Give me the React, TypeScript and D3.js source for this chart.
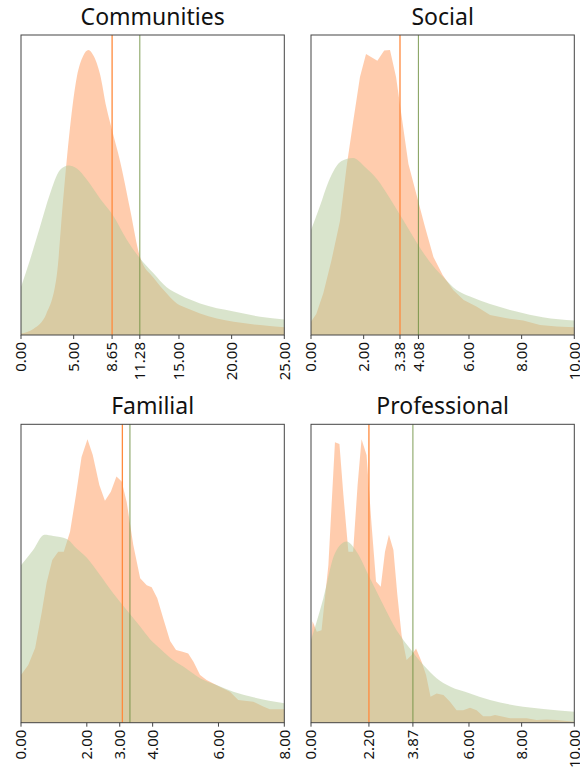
import React from "react";
import * as d3 from "d3";

// ---------- DATA ----------
const panelTitles = ["Communities", "Social", "Familial", "Professional"];

const commDomain = [0, 25];
const commTicks = [0, 5, 8.65, 11.28, 15, 20, 25];
const commMeans = [8.65, 11.28];
const commOrangeX = [0, 1.17, 2.4, 3.4, 4.0, 4.65, 5.3, 5.9, 6.4, 6.9, 7.5, 8.1, 8.67, 9.4, 10.35, 11.3, 12.6, 13.8, 14.8, 15.7, 17, 18.6, 20.2, 22.7, 25];
const commOrangeY = [0.005, 0.02, 0.07, 0.2, 0.45, 0.69, 0.86, 0.93, 0.95, 0.93, 0.87, 0.76, 0.68, 0.58, 0.42, 0.26, 0.19, 0.14, 0.105, 0.09, 0.072, 0.055, 0.044, 0.033, 0.026];
const commGreenX = [0, 0.85, 1.8, 2.75, 3.7, 4.5, 5.3, 6.2, 7.5, 8.8, 10, 11.3, 12.6, 13.8, 15.1, 17, 20.2, 22.7, 25];
const commGreenY = [0.16, 0.25, 0.36, 0.47, 0.55, 0.565, 0.555, 0.52, 0.455, 0.395, 0.32, 0.255, 0.205, 0.16, 0.133, 0.105, 0.078, 0.061, 0.052];

const socDomain = [0, 10];
const socTicks = [0, 2, 3.38, 4.08, 6, 8, 10];
const socMeans = [3.38, 4.08];
const socOrangeX = [0, 0.2, 0.47, 0.78, 1.1, 1.35, 1.6, 1.86, 2.09, 2.52, 2.78, 3.0, 3.23, 3.44, 3.7, 4.0, 4.33, 4.65, 5.0, 5.4, 5.8, 6.3, 6.8, 7.43, 8.06, 8.7, 9.33, 10];
const socOrangeY = [0.044, 0.07, 0.14, 0.25, 0.38, 0.56, 0.71, 0.86, 0.937, 0.914, 0.948, 0.95, 0.86, 0.73, 0.57, 0.47, 0.36, 0.26, 0.2, 0.15, 0.117, 0.094, 0.067, 0.056, 0.048, 0.033, 0.028, 0.026];
const socGreenX = [0, 0.34, 0.66, 1.16, 1.6, 2.05, 2.5, 3.0, 3.5, 4.0, 4.5, 5.0, 5.53, 6.04, 6.8, 7.8, 8.8, 10];
const socGreenY = [0.35, 0.43, 0.51, 0.58, 0.59, 0.56, 0.52, 0.455, 0.383, 0.31, 0.245, 0.195, 0.15, 0.128, 0.103, 0.078, 0.059, 0.048];

const famDomain = [0, 8];
const famTicks = [0, 2, 3, 4, 6, 8];
const famMeans = [3.08, 3.31];
const famOrangeX = [0, 0.22, 0.43, 0.63, 0.78, 0.95, 1.13, 1.3, 1.49, 1.67, 1.84, 2.02, 2.18, 2.38, 2.55, 2.73, 2.9, 3.06, 3.21, 3.41, 3.62, 3.82, 3.97, 4.14, 4.32, 4.53, 4.71, 4.91, 5.08, 5.24, 5.44, 5.64, 6.05, 6.35, 6.6, 7.06, 7.36, 7.56, 8];
const famOrangeY = [0.16, 0.193, 0.25, 0.37, 0.47, 0.545, 0.573, 0.573, 0.64, 0.763, 0.89, 0.95, 0.897, 0.797, 0.744, 0.774, 0.825, 0.808, 0.74, 0.596, 0.484, 0.461, 0.454, 0.417, 0.35, 0.274, 0.244, 0.238, 0.232, 0.204, 0.16, 0.143, 0.12, 0.104, 0.076, 0.07, 0.054, 0.045, 0.045];
const famGreenX = [0, 0.37, 0.71, 0.98, 1.39, 1.69, 2.0, 2.4, 2.8, 3.21, 3.62, 3.92, 4.22, 4.53, 4.93, 5.44, 5.94, 6.45, 7.06, 8];
const famGreenY = [0.528, 0.579, 0.63, 0.626, 0.616, 0.584, 0.553, 0.495, 0.434, 0.378, 0.322, 0.28, 0.249, 0.218, 0.188, 0.149, 0.126, 0.104, 0.085, 0.065];

const proDomain = [0, 10];
const proTicks = [0, 2.2, 3.87, 6, 8, 10];
const proMeans = [2.2, 3.87];
const proOrangeX = [0, 0.06, 0.22, 0.4, 0.66, 0.91, 1.08, 1.23, 1.42, 1.6, 1.77, 1.92, 2.11, 2.3, 2.47, 2.65, 2.81, 2.96, 3.13, 3.28, 3.44, 3.63, 3.82, 3.99, 4.2, 4.37, 4.54, 4.77, 5.03, 5.28, 5.53, 5.78, 6.04, 6.29, 6.54, 6.8, 6.99, 7.3, 7.56, 7.94, 8.19, 8.57, 8.95, 9.33, 10];
const proOrangeY = [0.27, 0.34, 0.305, 0.31, 0.528, 0.94, 0.934, 0.763, 0.573, 0.573, 0.797, 0.95, 0.897, 0.663, 0.473, 0.456, 0.573, 0.63, 0.579, 0.428, 0.294, 0.21, 0.227, 0.249, 0.204, 0.16, 0.087, 0.098, 0.093, 0.07, 0.042, 0.042, 0.05, 0.042, 0.022, 0.022, 0.026, 0.02, 0.015, 0.015, 0.015, 0.009, 0.011, 0.009, 0.003];
const proGreenX = [0, 0.22, 0.47, 0.91, 1.35, 1.73, 2.24, 2.75, 3.25, 3.76, 4.27, 4.77, 5.28, 6.04, 6.8, 7.8, 8.82, 10];
const proGreenY = [0.277, 0.34, 0.417, 0.568, 0.607, 0.573, 0.484, 0.394, 0.31, 0.249, 0.193, 0.149, 0.121, 0.098, 0.076, 0.057, 0.046, 0.037];

// ---------- LAYOUT ----------
const W = 580;
const H = 769;
const colX = [21, 311];
const rowY = [35, 424.3];
const PW = 263.3;
const PH = [300, 298.4];

type Panel = {
  title: string;
  domain: number[];
  ticks: number[];
  means: number[];
  ox: number[];
  oy: number[];
  gx: number[];
  gy: number[];
  smoothOrange: boolean;
};

const panels: Panel[] = [
  { title: panelTitles[0], domain: commDomain, ticks: commTicks, means: commMeans, ox: commOrangeX, oy: commOrangeY, gx: commGreenX, gy: commGreenY, smoothOrange: true },
  { title: panelTitles[1], domain: socDomain, ticks: socTicks, means: socMeans, ox: socOrangeX, oy: socOrangeY, gx: socGreenX, gy: socGreenY, smoothOrange: false },
  { title: panelTitles[2], domain: famDomain, ticks: famTicks, means: famMeans, ox: famOrangeX, oy: famOrangeY, gx: famGreenX, gy: famGreenY, smoothOrange: false },
  { title: panelTitles[3], domain: proDomain, ticks: proTicks, means: proMeans, ox: proOrangeX, oy: proOrangeY, gx: proGreenX, gy: proGreenY, smoothOrange: false },
];

const ORANGE_FILL = "#ff9a5c";
const GREEN_FILL = "#b3c99a";
const ORANGE_LINE = "#ff8a3d";
const GREEN_LINE = "#6e9040";
const FONT = "'Noto Sans', 'Open Sans', sans-serif";

function PanelView({ p, i }: { p: Panel; i: number }) {
  const x0 = colX[i % 2];
  const y0 = rowY[Math.floor(i / 2)];
  const ph = PH[Math.floor(i / 2)];
  const x = d3.scaleLinear().domain(p.domain).range([x0, x0 + PW]);
  const y = d3.scaleLinear().domain([0, 1]).range([y0 + ph, y0]);

  const orangePts = p.ox.map((v, k) => [v, p.oy[k]] as [number, number]);
  const greenPts = p.gx.map((v, k) => [v, p.gy[k]] as [number, number]);

  const areaO = d3
    .area<[number, number]>()
    .x((d) => x(d[0]))
    .y0(y(0))
    .y1((d) => y(d[1]))
    .curve(p.smoothOrange ? d3.curveMonotoneX : d3.curveLinear);
  const areaG = d3
    .area<[number, number]>()
    .x((d) => x(d[0]))
    .y0(y(0))
    .y1((d) => y(d[1]))
    .curve(d3.curveMonotoneX);

  const bottom = y0 + ph;
  const fmt = d3.format(".2f");

  return (
    <g>
      <text
        x={x0 + PW / 2}
        y={y0 - 10}
        textAnchor="middle"
        fontFamily={FONT}
        fontSize={23}
        fill="#111"
      >
        {p.title}
      </text>
      <path d={areaO(orangePts) || ""} fill={ORANGE_FILL} fillOpacity={0.5} />
      <path d={areaG(greenPts) || ""} fill={GREEN_FILL} fillOpacity={0.5} />
      <line x1={x(p.means[0])} x2={x(p.means[0])} y1={y0} y2={bottom} stroke={ORANGE_LINE} strokeWidth={1.3} />
      <line x1={x(p.means[1])} x2={x(p.means[1])} y1={y0} y2={bottom} stroke={GREEN_LINE} strokeWidth={1.1} strokeOpacity={0.8} />
      <rect x={x0} y={y0} width={PW} height={ph} fill="none" stroke="#444" strokeWidth={1} />
      {p.ticks.map((t) => (
        <g key={t}>
          <line x1={x(t)} x2={x(t)} y1={bottom} y2={bottom + 4} stroke="#444" strokeWidth={1} />
          <text
            transform={`translate(${x(t)},${bottom + 7}) rotate(-90)`}
            textAnchor="end"
            dy="0.35em"
            fontFamily={FONT}
            fontSize={15}
            fill="#111"
          >
            {fmt(t)}
          </text>
        </g>
      ))}
    </g>
  );
}

export default function App() {
  return (
    <div style={{ position: "absolute", left: 0, top: 0 }}>
      <svg width={W} height={H} style={{ display: "block", background: "#fff" }}>
        {panels.map((p, i) => (
          <PanelView key={p.title} p={p} i={i} />
        ))}
      </svg>
    </div>
  );
}
